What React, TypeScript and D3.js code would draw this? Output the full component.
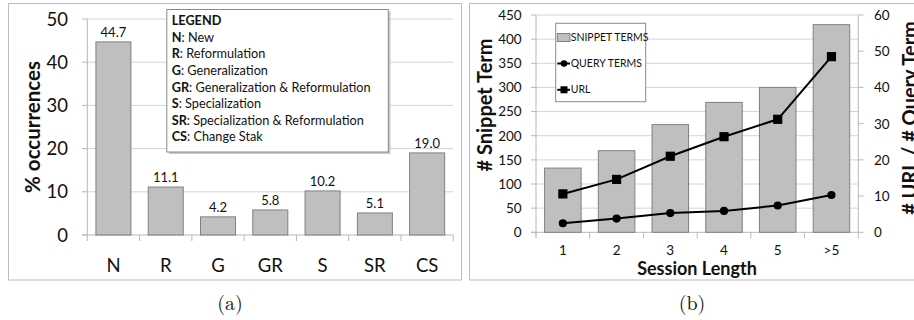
import React from "react";
import * as d3 from "d3";

// panel (a): share of each reformulation type
const typeCats = ["N", "R", "G", "GR", "S", "SR", "CS"];
const typeValues = [44.7, 11.1, 4.2, 5.8, 10.2, 5.1, 19.0];
const typeTicks = [0, 10, 20, 30, 40, 50];
const legendRows = [
  ["N", "New"],
  ["R", "Reformulation"],
  ["G", "Generalization"],
  ["GR", "Generalization & Reformulation"],
  ["S", "Specialization"],
  ["SR", "Specialization & Reformulation"],
  ["CS", "Change Stak"],
];

// panel (b): by session length
const sessionCats = ["1", "2", "3", "4", "5", ">5"];
const snippetTerms = [133, 169, 223, 269, 300, 430];
const queryTerms = [2.5, 3.8, 5.3, 5.9, 7.4, 10.3];
const urls = [10.6, 14.6, 21.0, 26.4, 31.2, 48.5];
const leftTicks = [0, 50, 100, 150, 200, 250, 300, 350, 400, 450];
const rightTicks = [0, 10, 20, 30, 40, 50, 60];

const FONT = "Lato, 'Open Sans', sans-serif";
const SERIF = "'Latin Modern Roman', 'DejaVu Serif', 'Liberation Serif', serif";
const BAR_FILL = "#bfbfbf";
const BAR_STROKE = "#808080";
const GRID = "#d4d4d4";
const AXIS = "#b8b8b8";

function PanelA() {
  const x = d3.scaleBand().domain(typeCats).range([87.3, 453.3]).paddingInner(0.33).paddingOuter(0.165);
  const y = d3.scaleLinear().domain([0, 50]).range([235, 19]);
  const step = x.step();
  const x0 = x.range()[0];
  return (
    <g fontFamily={FONT} fill="#111">
      <rect x={8.5} y={3.5} width={453} height={276.5} fill="none" stroke="#bdbdbd" />
      {typeTicks.map((t) => (
        <g key={t}>
          {t > 0 && <line x1={87.3} x2={453.3} y1={y(t)} y2={y(t)} stroke={GRID} />}
          <line x1={82} x2={87.3} y1={y(t)} y2={y(t)} stroke={AXIS} />
          <text x={68} y={y(t)} dy="0.36em" textAnchor="end" fontSize={18.5}>{t}</text>
        </g>
      ))}
      <line x1={87.3} x2={87.3} y1={y(50)} y2={y(0)} stroke={AXIS} />
      <line x1={82} x2={453.3} y1={y(0)} y2={y(0)} stroke={AXIS} />
      {d3.range(typeCats.length + 1).map((i) => (
        <line key={i} x1={x0 + i * step} x2={x0 + i * step} y1={y(0)} y2={y(0) + 6} stroke={AXIS} />
      ))}
      {typeCats.map((c, i) => (
        <g key={c}>
          <rect x={x(c)} y={y(typeValues[i])} width={x.bandwidth()} height={y(0) - y(typeValues[i])}
            fill={BAR_FILL} stroke={BAR_STROKE} />
          <text x={x(c)! + x.bandwidth() / 2} y={y(typeValues[i]) - 5} textAnchor="middle" fontSize={13}>
            {typeValues[i].toFixed(1)}
          </text>
          <text x={x(c)! + x.bandwidth() / 2} y={265} dy="0.36em" textAnchor="middle" fontSize={18.5}>{c}</text>
        </g>
      ))}
      <text transform="translate(33,127) rotate(-90)" textAnchor="middle" dy="0.35em" fontSize={20.5} fontWeight="bold">
        % occurrences
      </text>
      <rect x={169} y={11.5} width={221.5} height={142.5} fill="#c8c8c8" />
      <rect x={166.8} y={9.5} width={221.5} height={142.5} fill="#fff" stroke="#8a8a8a" />
      <text x={171.7} y={21} dy="0.35em" fontSize={12.7} fontWeight="bold">LEGEND</text>
      {legendRows.map(([k, v], i) => (
        <text key={k} x={171.7} y={37.5 + i * 16.55} dy="0.35em" fontSize={12.7}>
          <tspan fontWeight="bold">{k}</tspan>: {v}
        </text>
      ))}
      <text x={230} y={303} dy="0.35em" textAnchor="middle" fontSize={20} fontFamily={SERIF}>(a)</text>
    </g>
  );
}

function PanelB() {
  const x = d3.scaleBand().domain(sessionCats).range([536, 858.3]).paddingInner(0.32).paddingOuter(0.16);
  const yL = d3.scaleLinear().domain([0, 450]).range([232.3, 15]);
  const yR = d3.scaleLinear().domain([0, 60]).range([232.3, 15]);
  const cx = (c: string) => x(c)! + x.bandwidth() / 2;
  const step = x.step();
  const x0 = x.range()[0];
  const line = d3.line<number>().x((_, i) => cx(sessionCats[i])).y((d) => yR(d));
  return (
    <g fontFamily={FONT} fill="#111">
      <rect x={469.5} y={3.5} width={460} height={276.5} fill="none" stroke="#bdbdbd" />
      {leftTicks.map((t) => (
        <g key={t}>
          {t > 0 && <line x1={536} x2={858.3} y1={yL(t)} y2={yL(t)} stroke={GRID} />}
          <line x1={531} x2={536} y1={yL(t)} y2={yL(t)} stroke={AXIS} />
          <text x={521.7} y={yL(t)} dy="0.36em" textAnchor="end" fontSize={13.5}>{t}</text>
        </g>
      ))}
      {rightTicks.map((t) => (
        <g key={t}>
          <line x1={858.3} x2={863.5} y1={yR(t)} y2={yR(t)} stroke={AXIS} />
          <text x={874} y={yR(t)} dy="0.36em" fontSize={13.5}>{t}</text>
        </g>
      ))}
      <line x1={536} x2={536} y1={yL(450)} y2={yL(0) + 3} stroke={AXIS} />
      <line x1={858.3} x2={858.3} y1={yR(60)} y2={yR(0)} stroke={AXIS} />
      <line x1={531} x2={858.3} y1={yL(0)} y2={yL(0)} stroke={AXIS} />
      {d3.range(sessionCats.length + 1).map((i) => (
        <line key={i} x1={x0 + i * step} x2={x0 + i * step} y1={yL(0)} y2={yL(0) + 6} stroke={AXIS} />
      ))}
      {sessionCats.map((c, i) => (
        <g key={c}>
          <rect x={x(c)} y={yL(snippetTerms[i])} width={x.bandwidth()} height={yL(0) - yL(snippetTerms[i])}
            fill={BAR_FILL} stroke={BAR_STROKE} />
          <text x={cx(c)} y={250.5} dy="0.36em" textAnchor="middle" fontSize={13.5}>{c}</text>
        </g>
      ))}
      <path d={line(urls)!} fill="none" stroke="#000" strokeWidth={2} />
      <path d={line(queryTerms)!} fill="none" stroke="#000" strokeWidth={2} />
      {sessionCats.map((c, i) => (
        <g key={c}>
          <rect x={cx(c) - 4.6} y={yR(urls[i]) - 4.6} width={9.2} height={9.2} fill="#000" />
          <circle cx={cx(c)} cy={yR(queryTerms[i])} r={4.1} fill="#000" />
        </g>
      ))}
      <text transform="translate(485,105) rotate(-90)" textAnchor="middle" dy="0.35em" fontSize={20} fontWeight="bold">
        # Snippet Term
      </text>
      <text transform="translate(910,118) rotate(-90)" textAnchor="middle" dy="0.35em" fontSize={20} fontWeight="bold">
        # URL / # Query Term
      </text>
      <text x={697} y={269} dy="0.35em" textAnchor="middle" fontSize={18} fontWeight="bold">Session Length</text>
      <rect x={555.7} y={23.3} width={90} height={78.4} fill="#fff" stroke="#8a8a8a" />
      <rect x={557.3} y={33.5} width={12.7} height={8} fill={BAR_FILL} stroke={BAR_STROKE} />
      <text x={570.7} y={37.7} dy="0.35em" fontSize={10.5}>SNIPPET TERMS</text>
      <line x1={557.3} x2={570} y1={63.5} y2={63.5} stroke="#000" strokeWidth={2} />
      <circle cx={564} cy={63.5} r={3.3} fill="#000" />
      <text x={570.7} y={63.5} dy="0.35em" fontSize={10.5}>QUERY TERMS</text>
      <line x1={557.3} x2={570} y1={89.8} y2={89.8} stroke="#000" strokeWidth={2} />
      <rect x={560.5} y={86.3} width={7} height={7} fill="#000" />
      <text x={570.7} y={89.8} dy="0.35em" fontSize={10.5}>URL</text>
      <text x={692} y={303} dy="0.35em" textAnchor="middle" fontSize={20} fontFamily={SERIF}>(b)</text>
    </g>
  );
}

export default function App() {
  return (
    <svg width={914} height={320} style={{ position: "absolute", left: 0, top: 0, background: "#fff" }}>
      <rect width={914} height={320} fill="#fff" />
      <PanelA />
      <PanelB />
    </svg>
  );
}
